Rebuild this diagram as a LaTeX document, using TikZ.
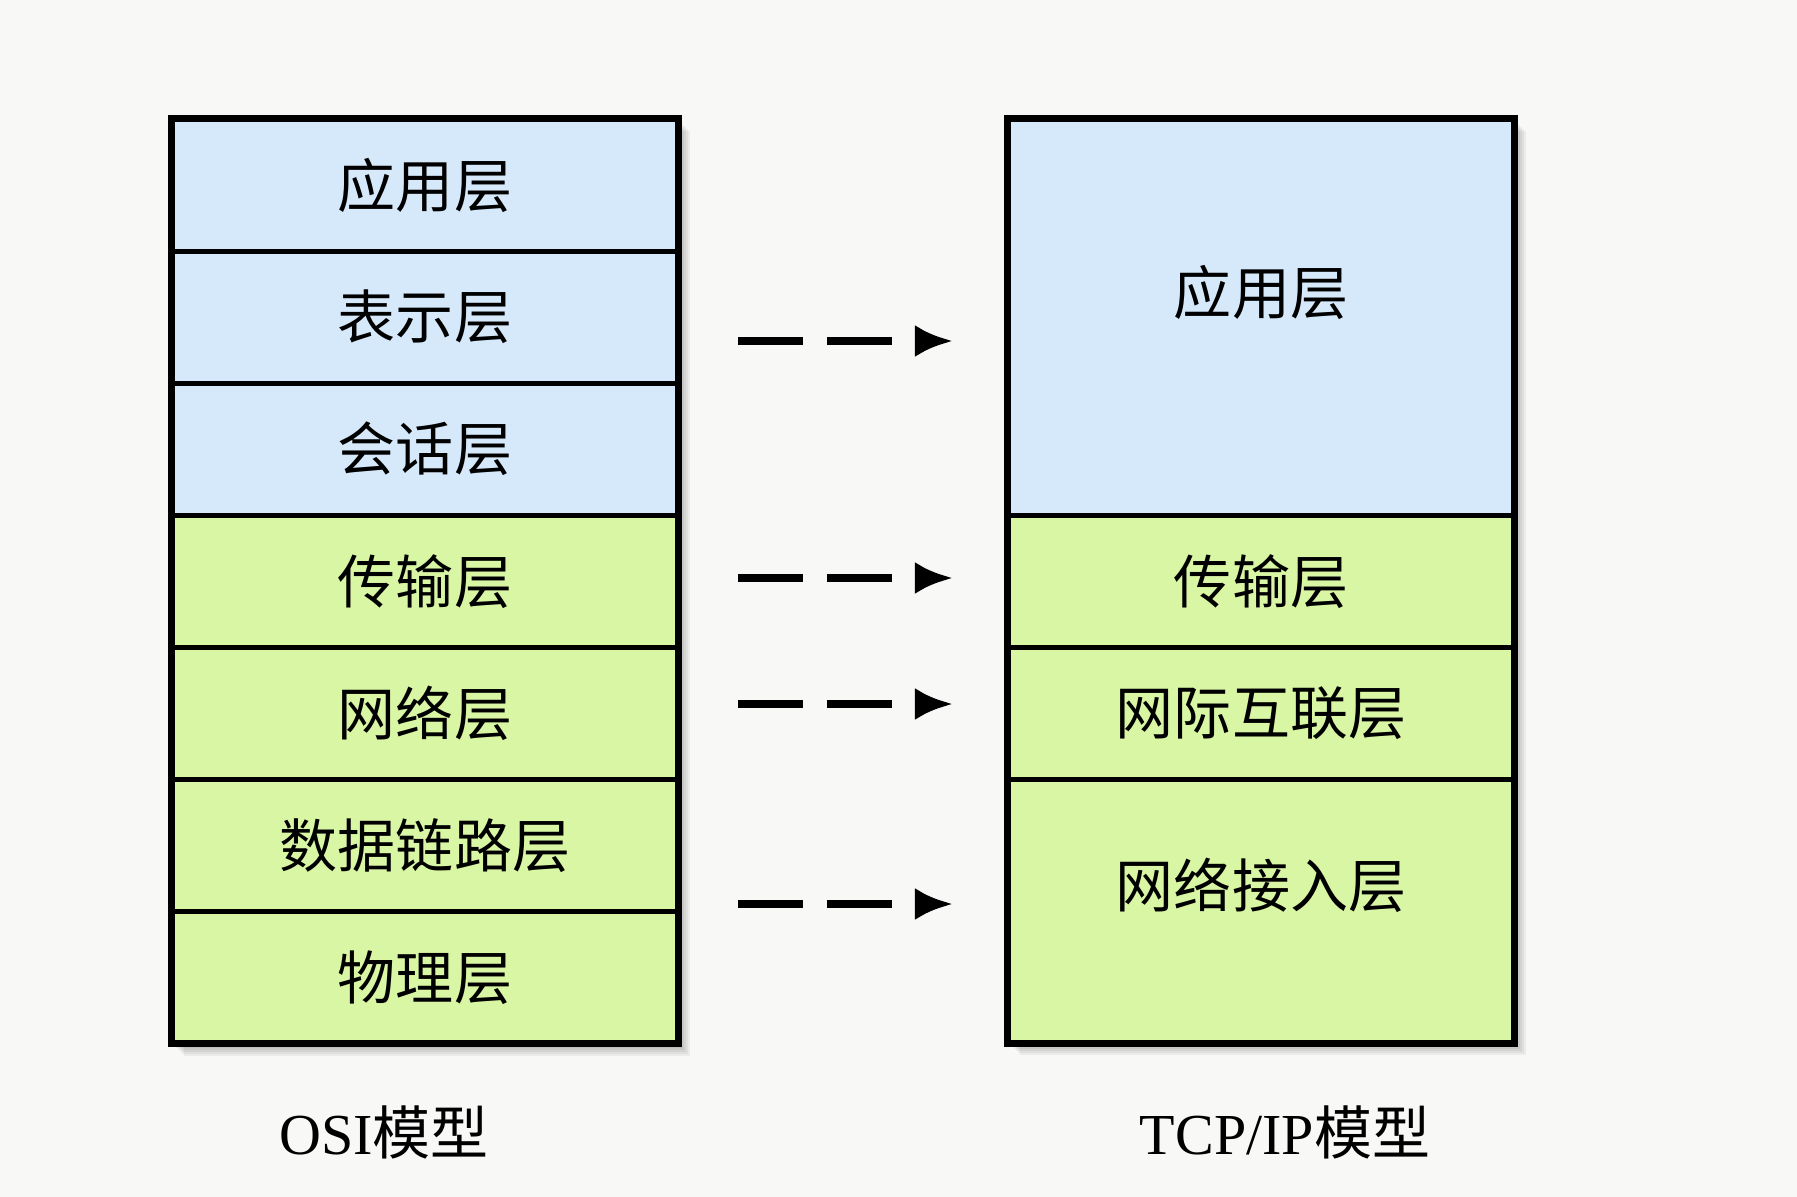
\documentclass[tikz,border=0pt]{standalone}
\usepackage{fontspec}
\setmainfont{Liberation Serif}
\newfontfamily\cjk{Noto Sans CJK SC}
\usepackage{tikz}
\usetikzlibrary{positioning}
\usetikzlibrary{arrows.meta}
\usetikzlibrary{backgrounds}

\definecolor{appblue}{RGB}{213,233,251}
\definecolor{lowgreen}{RGB}{217,246,164}
\definecolor{paper}{RGB}{248,248,247}

\begin{document}
\begin{tikzpicture}[x=0.01cm, y=-0.01cm,
    layer/.style={draw=black, line width=0.05cm, outer sep=0pt, inner sep=0pt,
        minimum width=5.06cm, minimum height=1.32cm,
        font=\cjk\fontsize{16.5pt}{20pt}\selectfont},
    upper/.style={layer, fill=appblue},
    lower/.style={layer, fill=lowgreen},
    every label/.style={font=\cjk\fontsize{16.5pt}{20pt}\selectfont},
    frame/.style={draw=black, line width=0.07cm},
    maps/.style={line width=0.08cm, dash pattern=on 0.65cm off 0.24cm,
        -{Latex[length=0.38cm, width=0.32cm]}},
    model/.style={font=\fontsize{16.5pt}{20pt}\selectfont}]

    % OSI 七层
    \node[upper] (osi7) at (425,185) {应用层};
    \node[upper, below=0pt of osi7] (osi6) {表示层};
    \node[upper, below=0pt of osi6] (osi5) {会话层};
    \node[lower, below=0pt of osi5] (osi4) {传输层};
    \node[lower, below=0pt of osi4] (osi3) {网络层};
    \node[lower, below=0pt of osi3] (osi2) {数据链路层};
    \node[lower, below=0pt of osi2] (osi1) {物理层};
    \draw[frame] (osi7.north west) rectangle (osi1.south east);

    % TCP/IP 四层
    \node[upper, minimum height=3.96cm, label={[yshift=0.25cm]center:应用层}] (tcp4) at (1261,317) {};
    \node[lower, below=0pt of tcp4] (tcp3) {传输层};
    \node[lower, below=0pt of tcp3] (tcp2) {网际互联层};
    \node[lower, minimum height=2.64cm, below=0pt of tcp2, label={[yshift=0.26cm]center:网络接入层}] (tcp1) {};
    \draw[frame] (tcp4.north west) rectangle (tcp1.south east);

    % 底色和阴影
    \begin{scope}[on background layer]
        \fill[paper] (0,0) rectangle (1797,1197);
        \foreach \top/\bot in {osi7/osi1, tcp4/tcp1}
            \foreach \s in {2,4,...,12}
                \fill[black, opacity=0.05] ([shift={(\s,\s)}]\top.north west) rectangle ([shift={(\s,\s)}]\bot.south east);
    \end{scope}

    % 对应关系
    \foreach \y [count=\i] in {341,578,704,904} {
        \coordinate (from\i) at (738,\y);
        \coordinate (to\i) at (953,\y);
        \draw[maps] (from\i) -- (to\i);
    }

    \node[model] (osiname) at (384,1132) {OSI{\cjk 模型}};
    \node[model] (tcpname) at (1285,1132) {TCP/IP{\cjk 模型}};

\end{tikzpicture}
\end{document}
